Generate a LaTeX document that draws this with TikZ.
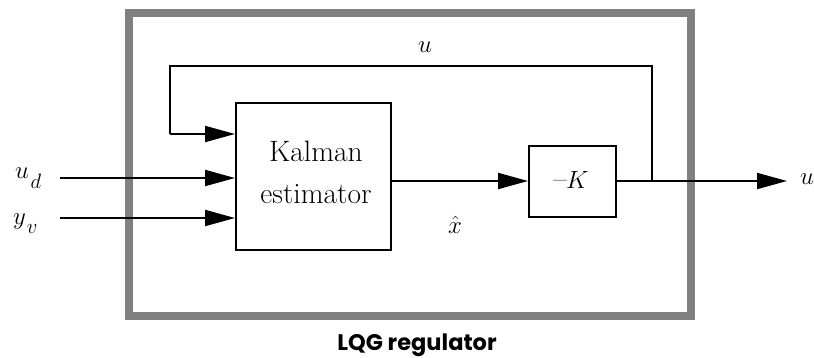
\documentclass[tikz,border=0pt]{standalone}
\usepackage{fontspec}
\newfontfamily\capfont{Poppins}
\usetikzlibrary{arrows.meta}
\definecolor{framegray}{RGB}{128,128,128}
\begin{document}
\begin{tikzpicture}[x=1pt,y=-1pt,
  every node/.style={font=\fontsize{29.5}{42}\selectfont, inner sep=0pt},
  blk/.style={draw=black, line width=2pt, fill=white},
  wire/.style={line width=2pt, draw=black},
  arr/.style={wire, -{Triangle[length=30pt,width=16pt]}},
  frame/.style={draw=framegray, line width=8pt}]
\useasboundingbox (0,0) rectangle (814,357);
% outer frame
\draw[frame] (129,13) rectangle (691,316);
% blocks
\node[blk, minimum width=155pt, minimum height=147pt] (kal) at (313.5,176.5) {};
\node[align=center] (kaltxt) at (316,172) {Kalman\\estimator};
\node[blk, minimum width=87pt, minimum height=71pt] (k) at (572.5,181) {};
\node (ktxt) at (571,180) {–\kern-1pt$K$};
% labels
\node[anchor=base west] (udl) at (15,178) {$u$\kern1.5pt\raisebox{-10pt}{$\scriptstyle d$}};
\node[anchor=base west] (yvl) at (13,224) {$y$\kern1pt\raisebox{-9pt}{$\scriptstyle v$}};
\node (utop) at (425,47.5) {$u$};
\node[anchor=base] (xh) at (455,233) {$\hat{x}$};
\node[anchor=west] (uout) at (800,179) {$u$};
\node (cap) at (417,345) {\capfont\bfseries\fontsize{22.5}{26}\selectfont LQG regulator};
% coordinates
\coordinate (udin) at (60,178);
\coordinate (yvin) at (60,218);
\coordinate (fbL) at (170,66);
\coordinate (fbin) at (170,134);
\coordinate (j) at (652,181);
\coordinate (otip) at (787,181);
% connectors
\draw[arr] (udin) -- (udin -| kal.west);
\draw[arr] (yvin) -- (yvin -| kal.west);
\draw[wire] (j) |- (fbL) -- (fbin);
\draw[arr] (fbin) -- (fbin -| kal.west);
\draw[arr] (kal.east |- k.west) -- (k.west);
\draw[arr] (k.east) -- (otip);
\end{tikzpicture}
\end{document}
